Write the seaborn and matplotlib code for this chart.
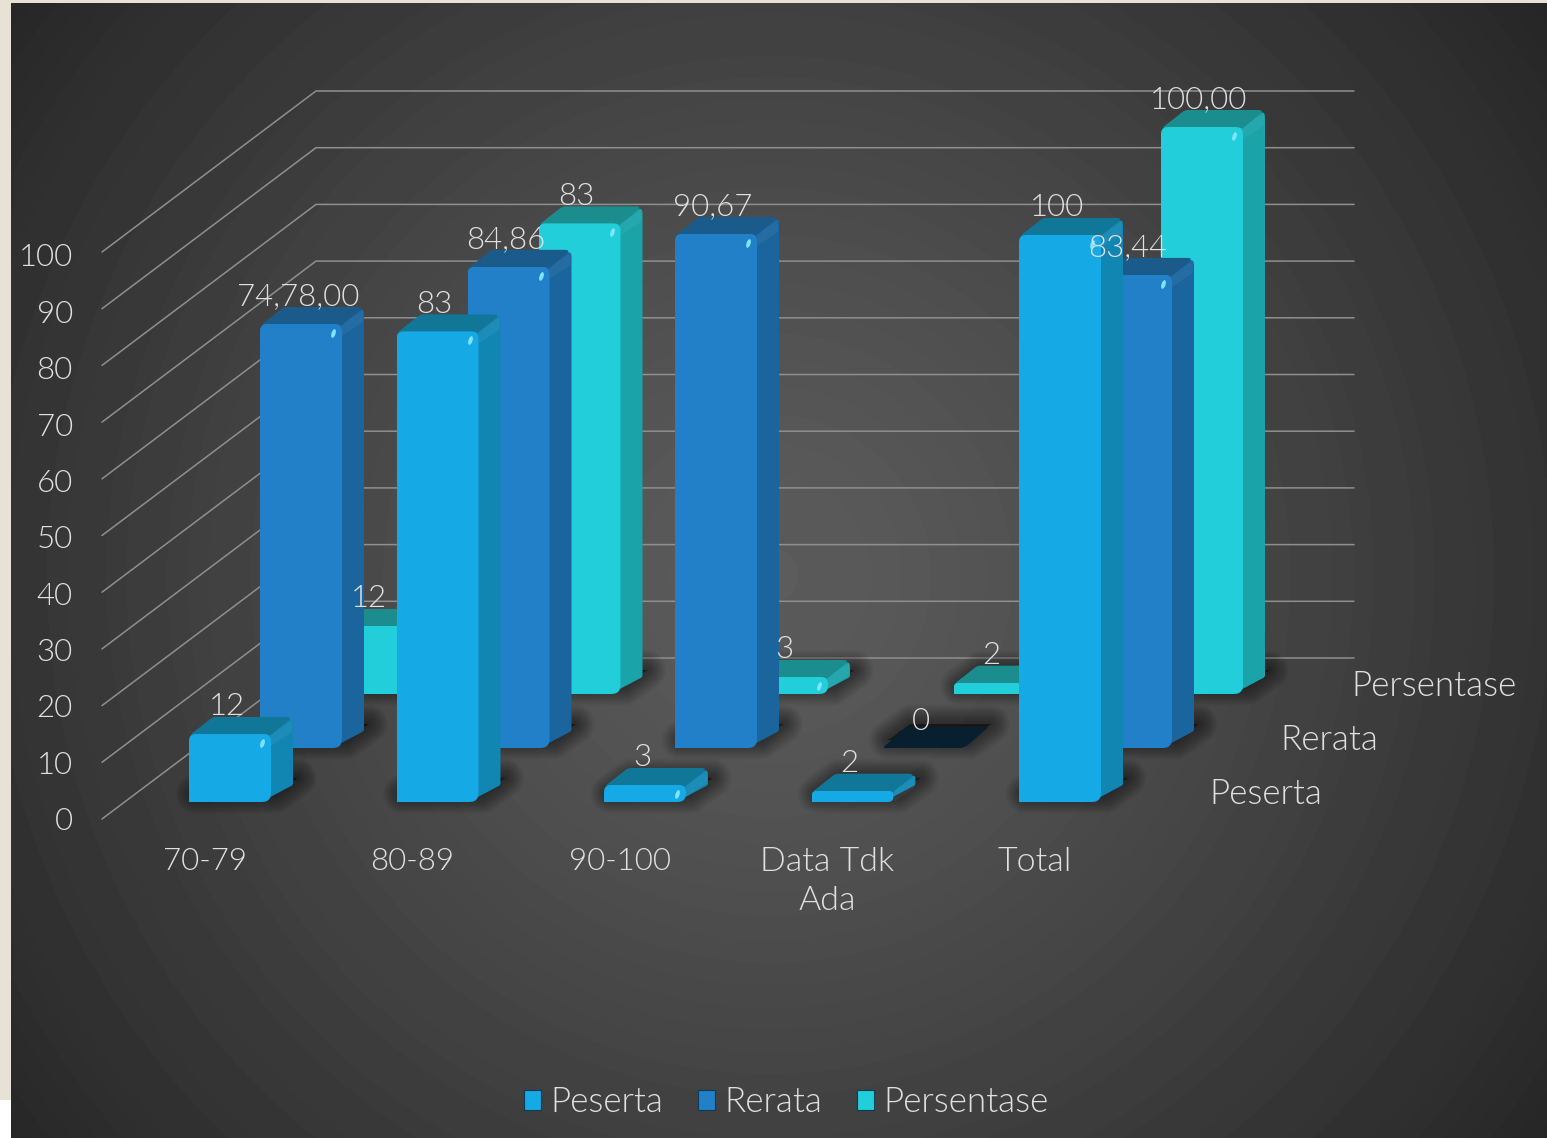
import numpy as np
import matplotlib
matplotlib.use('Agg')
import matplotlib.pyplot as plt
import seaborn as sns
from matplotlib.markers import MarkerStyle
from matplotlib.patches import Patch, Polygon, Rectangle
from matplotlib.text import Annotation
from matplotlib.transforms import Affine2D

categories = ['70-79', '80-89', '90-100', 'Data Tdk\nAda', 'Total']
peserta = [12, 83, 3, 2, 100]
rerata = [74.78, 84.86, 90.67, 0, 83.44]
persentase = [12, 83, 3, 2, 100]
peserta_labels = ['12', '83', '3', '2', '100']
rerata_labels = ['74,78,00', '84,86', '90,67', '0', '83,44']
persentase_labels = ['12', '83', '3', '2', '100,00']
value_ticks = [0, 10, 20, 30, 40, 50, 60, 70, 80, 90, 100]
row_names = ['Peserta', 'Rerata', 'Persentase']

W, H = 1547, 1138
FONT = 'Lato'
TEXT = '#e0e0e0'
NUM_SIZE = 22.5
WORD_SIZE = 25.2
DEPTH_X, DEPTH_Y = 22, 17      # top face depth in px
ROW_X, ROW_Y = 71, 54          # shift between rows in px
CAT_STEP = 207.5
BAR_W = 82
PX_PER_UNIT = 5.67

sns.set_theme(style='dark')
plt.rcParams['font.family'] = [FONT, 'DejaVu Sans']
plt.rcParams['font.weight'] = 300
plt.rcParams['axes.unicode_minus'] = False

fig = plt.figure(figsize=(W / 100, H / 100), dpi=100, facecolor='#e8e1d6')


def px_axes(x0, y_top, x1, y_bottom, zorder):
    return fig.add_axes([x0 / W, 1 - y_bottom / H, (x1 - x0) / W, (y_bottom - y_top) / H],
                        zorder=zorder, facecolor='none')


# white corner + radial background
fig.add_artist(Rectangle((0, 0), 11 / W, 38 / H, transform=fig.transFigure, fc='white', ec='none', zorder=-5))
bg = px_axes(11, 3, W, H, 0)
yy, xx = np.mgrid[3:H, 11:W]
dist = np.hypot(xx - 770, yy - 575) / 960
shade = np.clip(np.round((0.36 - 0.21 * dist ** 1.25) * 200) / 200, 0, 1)
bg.imshow(shade, cmap='gray', vmin=0, vmax=1, aspect='auto', interpolation='nearest')
bg.set_axis_off()

# back wall and side wall
wall = px_axes(102, 819 - 727, 1354, 819, 1)
wall.set_xlim(102, 1354)
wall.set_ylim(0, 727 / PX_PER_UNIT)
wall_rise = 161 / PX_PER_UNIT
for v in value_ticks:
    wall.plot([102, 316, 1354], [v, v + wall_rise, v + wall_rise], color='#8f8f8f', lw=1.1, clip_on=False)
wall.set_yticks([])
wall.set_xticks([205 + i * CAT_STEP for i in range(len(categories))])
wall.set_xticklabels(categories, color=TEXT, linespacing=1.4)
for lab, cat in zip(wall.get_xticklabels(), categories):
    lab.set_fontsize(NUM_SIZE if cat[0].isdigit() else 24.5)
wall.tick_params(axis='x', length=0, pad=20)
wall.grid(False)
for s in wall.spines.values():
    s.set_visible(False)

# value labels sit on a slightly tighter scale than the grid
value_axis = px_axes(102, 255, 103, 818.5, 1)
value_axis.set_ylim(0, 100)
value_axis.set_xticks([])
value_axis.set_yticks(value_ticks)
value_axis.set_yticklabels([str(v) for v in value_ticks], fontsize=NUM_SIZE, color=TEXT, va='center_baseline')
value_axis.tick_params(axis='y', length=0, pad=21)
value_axis.grid(False)
for s in value_axis.spines.values():
    s.set_visible(False)


def rounded(pts, radii, n=6):
    pts = np.asarray(pts, dtype=float)
    out = []
    for i, r in enumerate(radii):
        v = pts[i]
        prv, nxt = pts[i - 1], pts[(i + 1) % len(pts)]
        if r <= 0:
            out.append(v)
            continue
        a, b = np.linalg.norm(prv - v), np.linalg.norm(nxt - v)
        r = min(r, a / 2, b / 2)
        p1 = v + (prv - v) / a * r
        p2 = v + (nxt - v) / b * r
        for t in np.linspace(0, 1, n):
            out.append((1 - t) ** 2 * p1 + 2 * t * (1 - t) * v + t ** 2 * p2)
    return np.array(out)


def draw_row(values, labels, row, front, side, top):
    floor = 802 - row * ROW_Y
    left = 230 + row * ROW_X - CAT_STEP / 2
    ax = px_axes(left, floor - 100 * PX_PER_UNIT, left + CAT_STEP * len(values), floor, 5 - row)
    sns.barplot(x=categories, y=values, color=front, saturation=1, width=BAR_W / CAT_STEP, linewidth=0, ax=ax)
    ax.set_xlim(-0.5, len(values) - 0.5)
    ax.set_ylim(0, 100)
    ax.set_axis_off()
    sx, sy = 1 / CAT_STEP, 1 / PX_PER_UNIT

    for bar, label in zip(ax.patches, labels):
        x0, h = bar.get_x(), bar.get_height()
        h_px = h / sy

        def to_data(p):
            p = np.asarray(p, dtype=float)
            return np.column_stack([x0 + p[:, 0] * sx, p[:, 1] * sy])

        def face(p, **kw):
            ax.add_patch(Polygon(to_data(p), clip_on=False, **kw))

        # blurred floor shadow
        foot = [(6, 8), (BAR_W + 4, 8), (BAR_W + DEPTH_X + 4, DEPTH_Y + 7), (DEPTH_X + 6, DEPTH_Y + 7)]
        for lw in range(28, 0, -2):
            face(foot, fc='black', ec='black', alpha=0.035, lw=lw, joinstyle='round', zorder=0.5)

        if h == 0:
            face(rounded([(0, 0), (BAR_W, 0), (BAR_W + DEPTH_X + 2, DEPTH_Y + 4), (DEPTH_X + 2, DEPTH_Y + 4)],
                         [3, 6, 3, 3]), fc='#071f2e', ec='none', zorder=3)
        else:
            corner = min(7, h_px / 2)
            face(rounded([(BAR_W - 10, 0), (BAR_W + DEPTH_X, DEPTH_Y), (BAR_W + DEPTH_X, h_px + DEPTH_Y),
                          (BAR_W - 6, h_px)], [0, 2, 7, 0]), fc=side, ec='none', zorder=1)
            strip = min(12, h_px)
            face([(BAR_W, h_px), (BAR_W + DEPTH_X - 1, h_px + DEPTH_Y - 3), (BAR_W + DEPTH_X - 1, h_px + DEPTH_Y - 3 - strip),
                  (BAR_W, h_px - strip)], fc='white', ec='none', alpha=0.05, zorder=1.2)
            face(rounded([(1, h_px - 1), (BAR_W, h_px - 1), (BAR_W + DEPTH_X, h_px + DEPTH_Y), (DEPTH_X + 2, h_px + DEPTH_Y)],
                         [3, 0, 7, 3]), fc=top, ec='none', zorder=1.5)
            bar.set_zorder(2)
            clip = Polygon(to_data(rounded([(0, 0), (BAR_W, 0), (BAR_W, h_px), (0, h_px)],
                                           [1, min(9, h_px / 2), corner, corner])), transform=ax.transData)
            bar.set_clip_path(clip)
            if h >= 3:
                glint = MarkerStyle('o', transform=Affine2D().scale(0.45, 1).rotate_deg(-18))
                ax.plot([x0 + (BAR_W - 9) * sx], [(h_px - 9) * sy], marker=glint, ms=6.5, mec='none',
                        color='#7fe4ff', clip_on=False, zorder=3)

        fig.add_artist(Annotation(label, xy=(x0 + bar.get_width() / 2, h), xycoords=ax.transData,
                                  xytext=(-3 * 0.72, 27 * 0.72), textcoords='offset points',
                                  ha='center', va='center', fontsize=NUM_SIZE, color=TEXT, zorder=20))
    return ax


draw_row(peserta, peserta_labels, 0, '#15a9e6', '#1186b3', '#117799')
draw_row(rerata, rerata_labels, 1, '#2280c8', '#1a659e', '#1b5b8c')
draw_row(persentase, persentase_labels, 2, '#22ced9', '#1ba3aa', '#1b8d8f')

# series names along the depth axis
for i, name in enumerate(row_names):
    fig.text((1209 + i * ROW_X) / W, 1 - (794 - i * ROW_Y) / H, name, fontsize=WORD_SIZE, color=TEXT,
             ha='left', va='center')

handles = [Patch(fc=c, ec='#0c3a57', lw=0.8, label=n) for c, n in zip(['#15a9e6', '#2280c8', '#22ced9'], row_names)]
fig.legend(handles=handles, loc='center', bbox_to_anchor=(786 / W, 1 - 1102 / H), ncol=3, frameon=False,
           fontsize=WORD_SIZE, labelcolor=TEXT, handlelength=0.5, handleheight=0.5, handletextpad=0.25, columnspacing=1.0)

fig.savefig('out.png', dpi=100, facecolor=fig.get_facecolor())
